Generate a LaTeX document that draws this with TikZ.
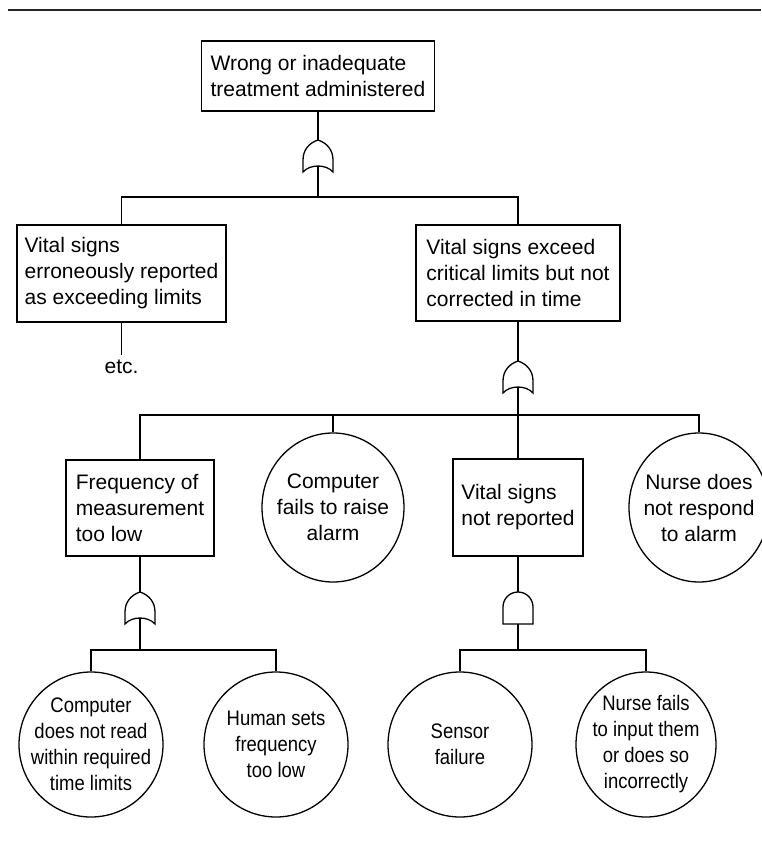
\documentclass[tikz,border=0pt]{standalone}
\usepackage{fontspec}
\setmainfont{Liberation Sans}
\newfontfamily\narrowsans[FakeStretch=0.88]{Liberation Sans}
\usetikzlibrary{shapes.geometric}

\begin{document}
\begin{tikzpicture}[x=1pt, y=-1pt, line width=1.3pt,
  font=\fontsize{21}{26}\selectfont,
  fault/.style={draw, rectangle, align=left, inner sep=0pt},
  basic/.style={draw, ellipse, inner sep=0pt},
  evtext/.style={align=center},
  lowtext/.style={align=center, font=\narrowsans\fontsize{21}{26}\selectfont},
  orgate/.pic={
    \draw (0,0) .. controls (9,3) and (15,10) .. (15,20) -- (15,32)
      .. controls (8,24) and (-8,24) .. (-15,32) -- (-15,20)
      .. controls (-15,10) and (-9,3) .. (0,0) -- cycle;
    \coordinate (-in) at (0,0);
    \coordinate (-out) at (0,26);
  },
  andgate/.pic={
    \draw (-15,32) -- (-15,15) .. controls (-15,6.7) and (-8.3,0) .. (0,0)
      .. controls (8.3,0) and (15,6.7) .. (15,15) -- (15,32) -- cycle;
    \coordinate (-in) at (0,0);
    \coordinate (-out) at (0,32);
  }]
  \useasboundingbox (0,0) rectangle (761,844);
  \draw [line width=2pt, black!85] (8,10) -- (761,10);

  % top event and first OR gate
  \node [fault, minimum width=233pt, minimum height=70pt] (top) at (318,76)
    {Wrong or inadequate\\treatment administered};
  \pic (g1) at (318,140) {orgate};
  \coordinate (b1) at (318,197);
  \node [fault, minimum width=209pt, minimum height=97pt] (err) at (121.5,273.5)
    {Vital signs\\erroneously reported\\as exceeding limits};
  \node [fault, minimum width=204pt, minimum height=96pt] (exc) at (518,273)
    {Vital signs exceed\\critical limits but not\\corrected in time};
  \node [anchor=base] (etc) at (121.5,373) {etc.};
  \draw (top) -- (g1-in);
  \draw (g1-out) -- (b1) (err) |- (b1) -| (exc);
  \draw (err) -- (etc);

  % second level
  \pic (g2) at (518,361) {orgate};
  \coordinate (b2) at (518,415);
  \node [fault, minimum width=148pt, minimum height=96pt] (freq) at (140,508)
    {Frequency of\\measurement\\too low};
  \node [basic, minimum width=142pt, minimum height=149pt,
    label={[evtext]center:{Computer\\fails to raise\\alarm}}] (comp) at (333,507.5) {};
  \node [fault, minimum width=130pt, minimum height=97pt] (vsnr) at (518,507.5)
    {Vital signs\\not reported};
  \node [basic, minimum width=140pt, minimum height=149pt,
    label={[evtext]center:{Nurse does\\not respond\\to alarm}}] (nurse) at (699,507.5) {};
  \draw (exc) -- (g2-in);
  \draw (g2-out) -- (vsnr);
  \draw (freq) |- (b2) -| (nurse);
  \draw (comp) -- (comp |- b2);

  % basic events
  \pic (g3) at (140,592) {orgate};
  \coordinate (b3) at (140,650);
  \pic (g4) at (518,592) {andgate};
  \coordinate (b4) at (518,650);
  \node [basic, minimum width=144pt, minimum height=145pt,
    label={[lowtext]center:{Computer\\does not read\\within required\\time limits}}] (cread) at (91,744.5) {};
  \node [basic, minimum width=144pt, minimum height=145pt,
    label={[lowtext]center:{Human sets\\frequency\\too low}}] (human) at (276,744.5) {};
  \node [basic, minimum width=144pt, minimum height=145pt,
    label={[lowtext]center:{Sensor\\failure}}] (sensor) at (460,744.5) {};
  \node [basic, minimum width=140pt, minimum height=145pt,
    label={[lowtext]center:{Nurse fails\\to input them\\or does so\\incorrectly}}] (nfail) at (646,744.5) {};
  \draw (freq) -- (g3-in);
  \draw (g3-out) -- (b3) (cread) |- (b3) -| (human);
  \draw (vsnr) -- (g4-in);
  \draw (g4-out) -- (b4) (sensor) |- (b4) -| (nfail);
\end{tikzpicture}
\end{document}
